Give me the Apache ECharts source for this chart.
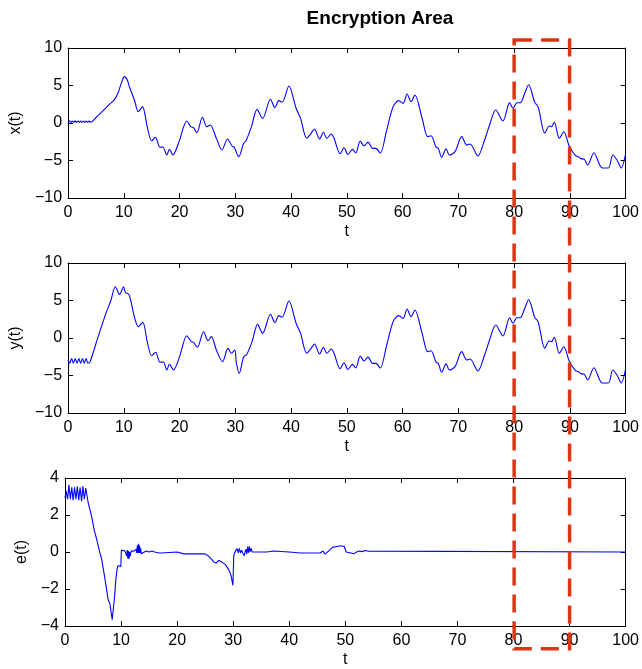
<!DOCTYPE html>
<html><head><meta charset="utf-8">
<script src="https://cdn.jsdelivr.net/npm/echarts@6/dist/echarts.min.js"></script>
<style>html,body{margin:0;padding:0;background:#fff}#c{width:642px;height:669px}</style>
</head><body><div id="c"></div>
<script>
// ---- data ----
const tX = [0,0.25,0.5,0.75,1,1.25,1.5,1.75,2,2.25,2.5,2.75,3,3.25,3.5,3.75,4.1,5.1,6.3,7.5,8.36,8.95,9.55,10.1,10.6,11.0,11.9,12.6,13.35,14.2,15.0,15.65,16.5,17.0,17.7,18.2,18.8,19.9,21.3,22.0,22.5,23.1,24.1,24.9,25.5,26.6,27.6,28.6,29.4,29.8,30.6,31.5,31.9,32.9,33.9,34.9,36.3,37.1,37.8,38.4,39.6,40.9,41.7,42.8,43.5,44.2,45.1,45.8,46.4,47.2,47.7,48.8,49.5,50.2,51.0,51.6,52.4,53.1,53.8,54.6,55.2,56.0,57.1,58.3,59.3,60.1,60.8,61.5,62.2,63.5,64.5,65.1,66.0,66.4,67.0,67.8,68.4,69.4,70.6,71.5,72.1,73.5,74.7,75.6,76.7,78.0,79.2,79.8,80.5,81.1,81.9,82.6,83.7,84.3,85.5,86.3,86.7,87.2,88.1,88.9,89.9,91.0,91.5,92.0,92.6,93.2,94.3,95.8,96.9,97.7,98.5,99.2,100];
const xVals = [0.15,0.28,0.08,0.27,0.1,0.28,0.08,0.26,0.1,0.27,0.08,0.26,0.1,0.27,0.08,0.25,0.1,0.8,1.65,2.55,3.16,3.96,5.29,6.18,5.8,4.84,3.07,1.51,2.18,-0.49,-2.4,-1.9,-3.24,-3.2,-4.27,-3.5,-4.27,-2.49,0.27,-0.49,-0.62,-1.29,0.76,-0.49,-0.27,-2.04,-3.6,-2.13,-3.07,-3.24,-4.49,-2.7,-2.4,-0.49,1.82,0.6,3.16,2.04,2.98,2.76,4.93,1.96,0.62,-2.04,-1.47,-0.8,-2.13,-1.24,-2.04,-1.47,-2.04,-4.1,-3.3,-4.2,-3.51,-4.0,-2.4,-3.07,-2.55,-3.38,-3.38,-4.0,-1.1,2.18,2.98,2.62,3.87,2.84,3.73,0.62,-1.82,-1.69,-3.24,-3.38,-4.58,-3.45,-4.27,-3.82,-1.82,-2.93,-2.8,-4.4,-2.27,-0.27,1.73,0.27,2.71,1.96,2.71,2.71,3.96,5.1,2.75,2.18,-1.35,-0.4,-0.49,0.1,-2.04,-1.16,-3.1,-4.35,-4.49,-4.75,-4.84,-5.6,-3.96,-6.0,-6.0,-4.27,-5.0,-6.0,-4.1];

const tY = [0,0.3,0.65,0.95,1.3,1.6,1.95,2.25,2.6,2.9,3.25,3.55,3.9,4.4,5.4,6.9,7.65,8.48,9.25,9.96,10.26,10.9,11.3,11.9,12.6,13.4,14.2,15.0,15.7,16.5,17.1,17.7,18.2,18.9,20.0,21.3,22.1,22.5,23.2,24.3,25.1,25.7,26.6,27.7,28.7,29.3,29.9,30.2,30.7,31.5,32.0,33.0,34.0,34.9,36.3,37.1,37.8,38.4,39.6,40.9,41.7,42.8,43.5,44.2,45.1,45.8,46.4,47.2,47.7,48.8,49.5,50.2,51.0,51.6,52.4,53.1,53.8,54.6,55.2,56.0,57.1,58.3,59.3,60.1,60.8,61.5,62.2,63.5,64.5,65.1,66.0,66.4,67.0,67.8,68.4,69.4,70.6,71.5,72.1,73.5,74.7,75.6,76.7,78.0,79.2,79.8,80.5,81.1,81.9,82.6,83.7,84.3,85.5,86.3,86.7,87.2,88.1,88.9,89.9,91.0,91.5,92.0,92.6,93.2,94.3,95.8,96.9,97.7,98.5,99.2,100];
const yVals = [-2.93,-3.35,-2.75,-3.35,-2.75,-3.35,-2.75,-3.35,-2.75,-3.35,-2.75,-3.35,-3.24,-2.2,0.18,3.51,4.93,6.84,5.82,6.84,6.1,5.8,4.84,2.84,1.51,2.1,-0.49,-2.36,-1.9,-3.24,-3.2,-4.27,-3.5,-4.27,-2.49,0.31,-0.49,-0.58,-1.24,0.84,-0.36,0.18,-1.6,-3.16,-1.38,-2.04,-1.6,-3.38,-4.71,-2.49,-2.27,-0.49,1.82,0.62,3.16,2.04,2.98,2.76,4.93,1.96,0.62,-2.04,-1.47,-0.8,-2.13,-1.24,-2.04,-1.47,-2.04,-4.1,-3.3,-4.2,-3.51,-4.0,-2.4,-3.07,-2.55,-3.38,-3.38,-4.0,-1.1,2.18,2.98,2.62,3.87,2.84,3.73,0.62,-1.82,-1.69,-3.24,-3.38,-4.58,-3.45,-4.27,-3.82,-1.82,-2.93,-2.8,-4.4,-2.27,-0.27,1.73,0.27,2.71,1.96,2.71,2.71,3.96,5.1,2.75,2.18,-1.35,-0.4,-0.49,0.1,-2.04,-1.16,-3.1,-4.35,-4.49,-4.75,-4.84,-5.6,-3.96,-6.0,-6.0,-4.27,-5.0,-6.0,-4.1];

const tE = [0,0.2,0.45,0.7,0.95,1.2,1.45,1.7,1.95,2.2,2.45,2.7,2.95,3.2,3.45,3.7,3.86,4.14,4.74,5.2,5.64,6.1,6.53,7.12,7.71,8.0,8.2,8.42,8.6,8.85,9.08,9.3,9.49,9.79,9.96,10.05,10.4,10.7,11.0,11.1,11.2,11.3,11.4,11.5,11.6,11.8,12.0,12.3,12.7,12.8,12.9,13.0,13.1,13.2,13.3,13.4,13.5,13.6,13.8,14.5,15.0,15.5,16.0,16.8,17.0,17.2,17.5,20.0,21.2,25.0,25.5,26.0,26.6,27.0,27.4,28.0,28.6,29.2,29.6,29.95,30.1,30.4,30.7,30.9,31.1,31.3,31.5,31.7,31.9,32.0,32.1,32.3,32.4,32.6,32.7,32.9,33.0,33.2,33.4,33.6,33.8,34.0,34.2,36.0,37.2,37.5,40.0,42.0,45.5,46.0,46.4,47.0,47.7,48.5,49.2,49.8,50.0,50.15,51.0,51.5,52.0,52.5,53.0,53.5,54.0,54.2,100];
const eVals = [2.92,3.3,2.85,3.63,2.85,3.5,2.8,3.5,2.85,3.55,2.8,3.5,2.75,3.55,2.85,3.45,3.54,2.65,1.94,1.2,0.69,0.1,-0.37,-1.44,-2.6,-2.77,-3.2,-3.66,-3.57,-2.4,-1.44,-0.9,-0.73,-0.82,-0.78,0.1,0.16,0.05,-0.2,0.1,-0.35,0.05,-0.38,0.0,-0.25,0.05,0.0,0.05,0.15,-0.05,0.35,-0.05,0.45,-0.05,0.35,-0.05,0.2,-0.1,0.0,0.05,0.0,0.05,0.0,-0.05,-0.12,-0.05,0.0,0.0,-0.1,-0.1,-0.2,-0.35,-0.55,-0.6,-0.45,-0.55,-0.68,-0.95,-1.25,-1.8,-0.18,0.05,0.18,-0.05,0.2,-0.05,0.1,-0.05,-0.15,-0.2,0.0,0.15,-0.1,0.3,-0.05,0.3,0.0,0.2,0.0,0.1,0.0,0.05,0.0,0.0,0.05,0.0,0.0,-0.05,-0.05,0.05,-0.12,0.05,0.25,0.3,0.34,0.3,0.32,0.0,-0.05,-0.1,0.0,0.05,0.02,0.08,0.05,0.0,0.0];

const tRange = [0, 100, 10];
const xyRange = [-10, 10, 5];
const eRange = [-4, 4, 2];
const yNames = ['x(t)', 'y(t)', 'e(t)'];
const xName = 't';
const titleText = 'Encryption Area';
const boxT = [80, 90];          // encryption area in t
const boxTopVal = 11.07;        // top edge, in x(t) units
const boxBottomVal = -5.23;     // bottom edge, in e(t) units

// ---- chart ----
const FONT = 'Liberation Sans, Arial, sans-serif';
const fmt = v => v < 0 ? '\u2212' + Math.abs(v) : String(v);
const pair = (t, v) => t.map((tt, i) => [tt, v[i]]);

const grids = [48, 263, 478].map(top => ({left: 65, right: 15, top: top, height: 150, show: false}));

function xAxisCfg(g, pos) {
  const main = pos === 'bottom';
  return {
    type: 'value', gridIndex: g, position: pos, min: tRange[0], max: tRange[1], interval: tRange[2],
    axisLine: {show: true, onZero: false, lineStyle: {color: '#000', width: 1}},
    axisTick: {show: true, inside: true, length: 5, lineStyle: {color: '#000', width: 1}},
    axisLabel: {show: main, fontSize: 16, color: '#000', fontFamily: FONT, margin: 7, formatter: fmt},
    splitLine: {show: false},
    name: main ? xName : '', nameLocation: 'middle', nameGap: 26,
    nameTextStyle: {fontSize: 16, color: '#000', fontFamily: FONT}
  };
}
function yAxisCfg(g, pos, r) {
  const main = pos === 'left';
  return {
    type: 'value', gridIndex: g, position: pos, min: r[0], max: r[1], interval: r[2],
    axisLine: {show: true, onZero: false, lineStyle: {color: '#000', width: 1}},
    axisTick: {show: true, inside: true, length: 5, lineStyle: {color: '#000', width: 1}},
    axisLabel: {show: main, fontSize: 16, color: '#000', fontFamily: FONT, margin: 6, formatter: fmt},
    splitLine: {show: false},
    name: main ? yNames[g] : '', nameLocation: 'middle', nameGap: 33,
    nameTextStyle: {fontSize: 16, color: '#000', fontFamily: FONT}
  };
}
const ranges = [xyRange, xyRange, eRange];
const xAxes = [0,1,2].map(g => xAxisCfg(g, 'bottom')).concat([0,1,2].map(g => xAxisCfg(g, 'top')));
const yAxes = [0,1,2].map(g => yAxisCfg(g, 'left', ranges[g])).concat([0,1,2].map(g => yAxisCfg(g, 'right', ranges[g])));

const lineSeries = (data, g, smooth) => ({
  type: 'line', xAxisIndex: g, yAxisIndex: g, data: data, showSymbol: false, symbol: 'none',
  smooth: smooth, lineStyle: {color: '#0000ff', width: 1.1}, clip: true, z: 3
});

const chart = echarts.init(document.getElementById('c'), null, {renderer: 'canvas'});
chart.setOption({
  animation: false,
  backgroundColor: '#fff',
  grid: grids,
  xAxis: xAxes,
  yAxis: yAxes,
  series: [
    lineSeries(pair(tX, xVals), 0, 0.3),
    lineSeries(pair(tY, yVals), 1, 0.3),
    lineSeries(pair(tE, eVals), 2, false)
  ]
});

const pTop = chart.convertToPixel({xAxisIndex: 0, yAxisIndex: 0}, [boxT[0], boxTopVal]);
const pBot = chart.convertToPixel({xAxisIndex: 2, yAxisIndex: 2}, [boxT[1], boxBottomVal]);
chart.setOption({
  graphic: [
    {type: 'text', x: 380, y: 19, z: 100,
     style: {text: titleText, fontSize: 19, fontWeight: 'bold', fontFamily: FONT, fill: '#000',
             textAlign: 'center', textVerticalAlign: 'middle'}},
    {type: 'rect', z: 100,
     shape: {x: pTop[0], y: pTop[1], width: pBot[0] - pTop[0], height: pBot[1] - pTop[1]},
     style: {fill: null, stroke: '#dc3714', lineWidth: 3.5, lineDash: [18, 9]}}
  ]
});
</script></body></html>
